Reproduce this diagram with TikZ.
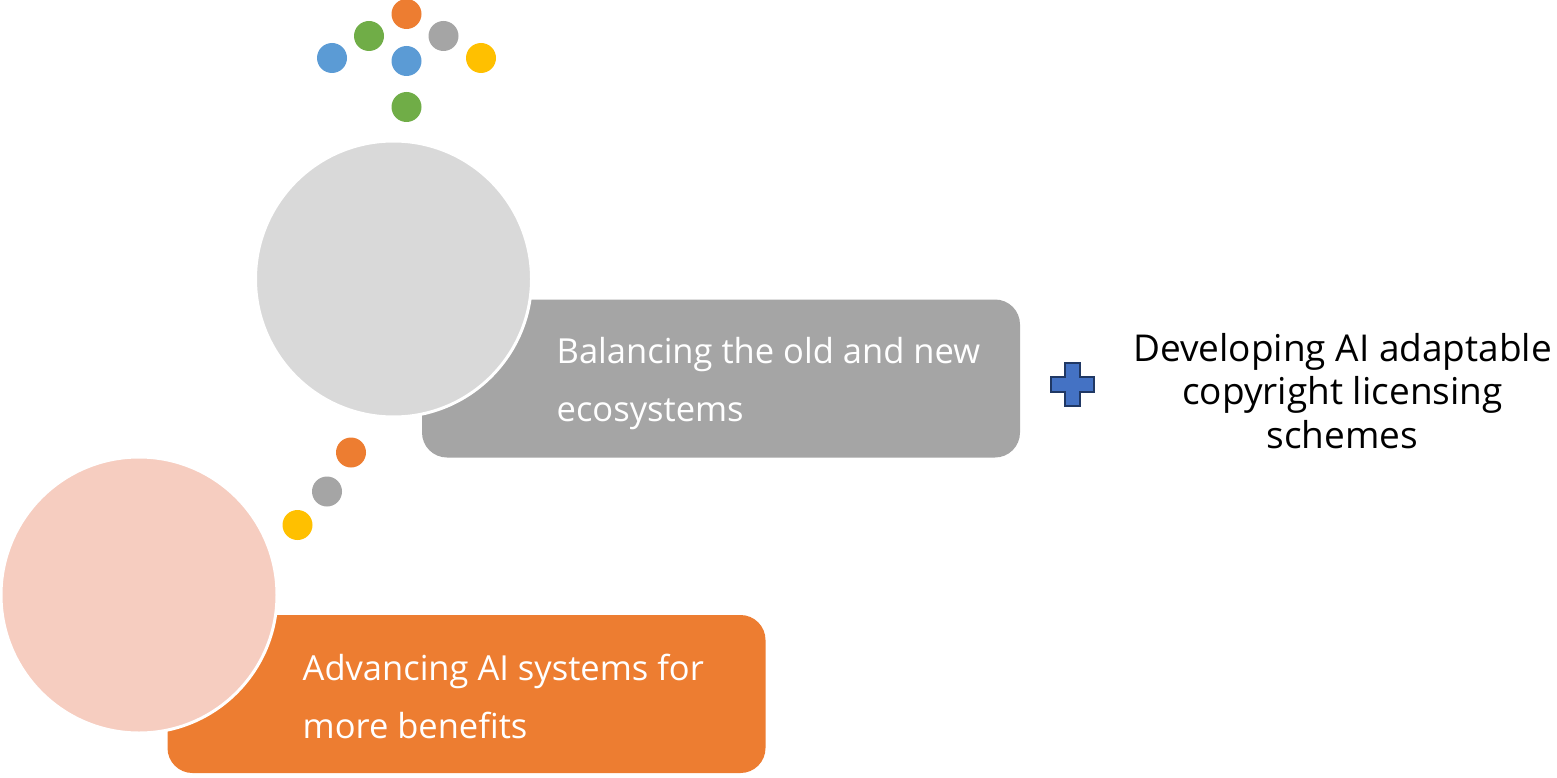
\documentclass[tikz,border=0pt]{standalone}
\usepackage{fontspec}
\setmainfont{Open Sans}
\definecolor{officeorange}{RGB}{237, 125, 49}
\definecolor{officegray}{RGB}{165, 165, 165}
\definecolor{officelightgray}{RGB}{217, 217, 217}
\definecolor{officepeach}{RGB}{246, 205, 192}
\definecolor{officeblue}{RGB}{91, 155, 213}
\definecolor{officegreen}{RGB}{112, 173, 71}
\definecolor{officeyellow}{RGB}{255, 192, 0}
\definecolor{plusblue}{RGB}{68, 114, 196}
\definecolor{plusnavy}{RGB}{32, 56, 100}
\usetikzlibrary{
  calc,
  positioning,
}
\tikzset{
  dot/.style={circle,minimum size=30,inner sep=0pt},
  bubble/.style={circle,minimum size=276,inner sep=0pt,draw=white,line width=3pt},
  tab/.style={rectangle,rounded corners=25,minimum width=598,minimum height=158,inner sep=0pt},
  tabtext/.style={text=white,align=left,inner sep=0pt,anchor=base west,font=\fontsize{34.5}{58}\selectfont},
}

\begin{document}
\begin{tikzpicture}[x=1pt,y=-1pt]
        \useasboundingbox (0,0) rectangle (1557,778);

        % tabs behind the bubbles
        \node[tab,fill=officegray]      (tabgray)   at (721,378.5) {};
        \node[tab,fill=officeorange]    (taborange) at (466.5,694) {};

        \node[bubble,fill=officelightgray] (bubblegray)  at (393.5,279) {};
        \node[bubble,fill=officepeach]     (bubblepeach) at (139,595)   {};

        % base = last line
        \node[tabtext] (textgray)   at (556.5,421.5) {Balancing the old and new\\ecosystems};
        \node[tabtext] (textorange) at (302.5,738.5) {Advancing AI systems for\\more benefits};

        % dots
        \node[dot,fill=officeorange] (dtop)    at (406.5,14)  {};
        \node[dot,fill=officegreen]  (dleft)   at (369,36)    {};
        \node[dot,fill=officegray]   (dright)  at (443.5,36)  {};
        \node[dot,fill=officeblue]   (dfar)    at (332,58)    {};
        \node[dot,fill=officeblue]   (dmid)    at (406.5,61)  {};
        \node[dot,fill=officeyellow] (dend)    at (481,58)    {};
        \node[dot,fill=officegreen]  (dbottom) at (406.5,107) {};

        \node[dot,fill=officeorange] (done)   at (351,452.5) {};
        \node[dot,fill=officegray]   (dtwo)   at (327,491.5) {};
        \node[dot,fill=officeyellow] (dthree) at (297.5,525) {};

        % plus sign
        \draw[fill=plusblue,draw=plusnavy,line width=2pt,line join=miter]
            (1064.5,363) -- (1079.5,363) -- (1079.5,377) -- (1093.5,377) -- (1093.5,391.5)
            -- (1079.5,391.5) -- (1079.5,406) -- (1064.5,406) -- (1064.5,391.5) -- (1050.5,391.5)
            -- (1050.5,377) -- (1064.5,377) -- cycle;

        \node[align=center,inner sep=0pt,anchor=base,font=\fontsize{37}{43.5}\selectfont] (goal) at (1342.5,448)
            {Developing AI adaptable\\copyright licensing\\schemes};
\end{tikzpicture}
\end{document}
